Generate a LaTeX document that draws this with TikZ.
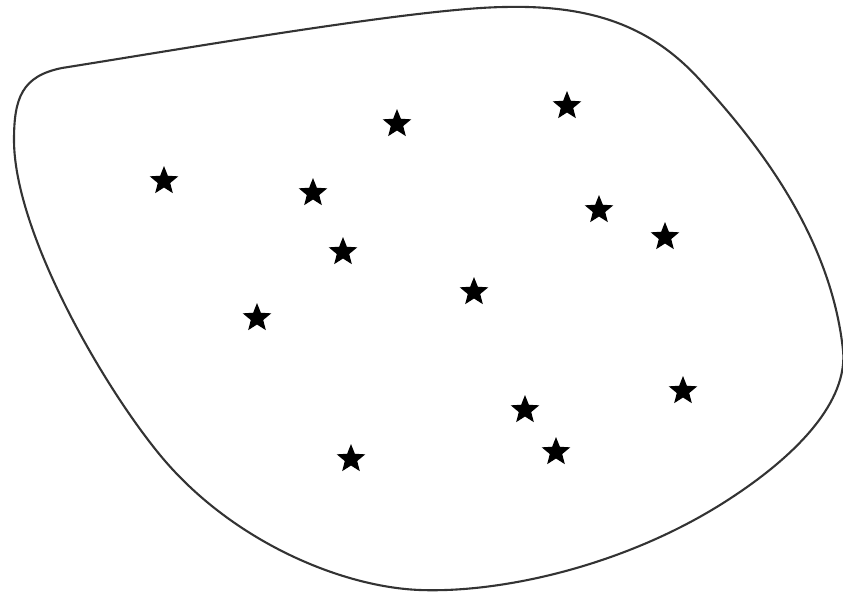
\documentclass[tikz,border=0pt]{standalone}
\usepackage{tikz}
\usetikzlibrary{shapes.geometric}
\tikzset{
  outline/.style={line width=2.1pt,draw=black!80},
  starpt/.style={star,star points=5,star point ratio=2.3,fill=black,draw=none,inner sep=0pt,minimum size=30pt}
}

\begin{document}
\begin{tikzpicture}[x=1pt,y=-1pt]
  \useasboundingbox (0,0) rectangle (843,597);

  % region boundary
  \draw[outline] (14,140) .. controls (14,98) and (22,76) .. (62,68)
    .. controls (200,46) and (420,8) .. (505,7)
    .. controls (590,5) and (650,25) .. (700,80)
    .. controls (750,135) and (830,230) .. (843,350)
    .. controls (848,400) and (800,455) .. (720,505)
    .. controls (620,567) and (500,593) .. (420,590)
    .. controls (340,587) and (230,540) .. (160,455)
    .. controls (100,382) and (14,230) .. (14,140) -- cycle;

  % sample points
  \node[starpt] (s1)  at (164,181) {};
  \node[starpt] (s2)  at (397,124) {};
  \node[starpt] (s3)  at (567,106) {};
  \node[starpt] (s4)  at (313,193) {};
  \node[starpt] (s5)  at (599,210) {};
  \node[starpt] (s6)  at (665,237) {};
  \node[starpt] (s7)  at (343,252) {};
  \node[starpt] (s8)  at (474,292) {};
  \node[starpt] (s9)  at (257,318) {};
  \node[starpt] (s10) at (683,391) {};
  \node[starpt] (s11) at (525,410) {};
  \node[starpt] (s12) at (556,452) {};
  \node[starpt] (s13) at (351,459) {};
\end{tikzpicture}
\end{document}
